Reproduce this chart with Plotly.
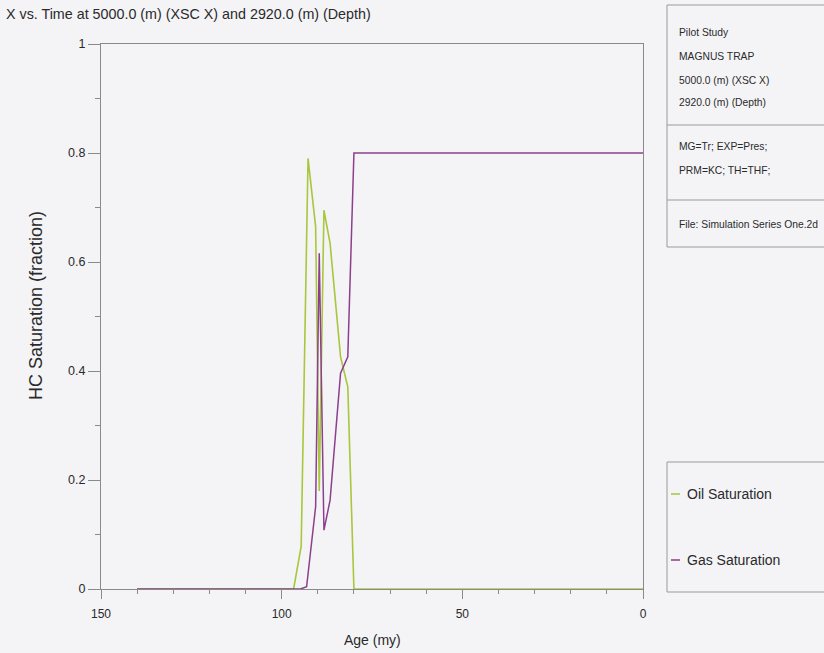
import plotly.graph_objects as go

# Hydrocarbon saturation history at a single cell (age in million years)
oil_age = [140, 96.7, 94.6, 92.7, 90.6, 89.6, 88.3, 86.6, 83.7, 81.7, 80.0, 0]
oil_sat = [0, 0, 0.078, 0.790, 0.665, 0.180, 0.695, 0.634, 0.426, 0.371, 0, 0]

gas_age = [140, 94.8, 93.1, 90.6, 89.6, 88.3, 86.6, 83.7, 81.7, 80.0, 0]
gas_sat = [0, 0, 0.004, 0.151, 0.616, 0.108, 0.163, 0.396, 0.426, 0.800, 0.800]

x_ticks = [150, 100, 50, 0]
y_ticks = [0, 0.2, 0.4, 0.6, 0.8, 1]
y_labels = ["0", "0.2", "0.4", "0.6", "0.8", "1"]

title_text = "X vs. Time at 5000.0 (m) (XSC X) and 2920.0 (m) (Depth)"
info_lines = ["Pilot Study", "MAGNUS TRAP", "5000.0 (m) (XSC X)", "2920.0 (m) (Depth)",
              "MG=Tr; EXP=Pres;", "PRM=KC; TH=THF;", "File: Simulation Series One.2d"]
series_names = ["Oil Saturation", "Gas Saturation"]

OIL = "#a9c63c"
GAS = "#8b3f8c"
AXIS = "#8a8a8a"
BG = "#f4f4f7"
TXT = "#2a2a2a"
FONT = "Liberation Sans, Arial, sans-serif"

W, H = 824, 653
ML, MR, MT, MB = 101, 181, 44, 64
PW, PH = W - ML - MR, H - MT - MB


def px(x):
    """Page pixel column -> paper x."""
    return (x - ML) / PW


def py(y):
    """Page pixel row -> paper y."""
    return (H - MB - y) / PH


fig = go.Figure()
fig.add_trace(go.Scatter(x=oil_age, y=oil_sat, mode="lines", name=series_names[0],
                         line=dict(color=OIL, width=1.6), showlegend=False))
fig.add_trace(go.Scatter(x=gas_age, y=gas_sat, mode="lines", name=series_names[1],
                         line=dict(color=GAS, width=1.5), showlegend=False))

shapes = []
annotations = []

# Info panel at the upper right
panel_line = dict(color="#9a9a9a", width=1)
shapes.append(dict(type="rect", xref="paper", yref="paper",
                   x0=px(667), x1=px(840), y0=py(247), y1=py(5), line=panel_line))
for sep in (125, 200):
    shapes.append(dict(type="line", xref="paper", yref="paper",
                       x0=px(667), x1=px(840), y0=py(sep), y1=py(sep), line=panel_line))
for text, yc in zip(info_lines, [32, 56, 80, 103, 146, 170, 225]):
    annotations.append(dict(text=text, xref="paper", yref="paper", x=px(677), y=py(yc),
                            xanchor="left", yanchor="middle", showarrow=False,
                            font=dict(family=FONT, size=10.3, color=TXT)))

# Legend box
shapes.append(dict(type="rect", xref="paper", yref="paper",
                   x0=px(667), x1=px(840), y0=py(592), y1=py(462), line=panel_line))
for name, color, yc in zip(series_names, [OIL, GAS], [494, 560]):
    shapes.append(dict(type="line", xref="paper", yref="paper",
                       x0=px(671), x1=px(680), y0=py(yc), y1=py(yc),
                       line=dict(color=color, width=1.5)))
    annotations.append(dict(text=name, xref="paper", yref="paper", x=px(685), y=py(yc),
                            xanchor="left", yanchor="middle", showarrow=False,
                            font=dict(family=FONT, size=14, color=TXT)))

# Titles
annotations.append(dict(text=title_text, xref="paper", yref="paper", x=px(4), y=py(14),
                        xanchor="left", yanchor="middle", showarrow=False,
                        font=dict(family=FONT, size=14.3, color=TXT)))
annotations.append(dict(text="Age (my)", xref="paper", yref="paper", x=px(372), y=py(640),
                        xanchor="center", yanchor="middle", showarrow=False,
                        font=dict(family=FONT, size=14, color=TXT)))
annotations.append(dict(text="HC Saturation (fraction)", xref="paper", yref="paper",
                        x=px(36), y=py(306), textangle=-90,
                        xanchor="center", yanchor="middle", showarrow=False,
                        font=dict(family=FONT, size=18, color=TXT)))

fig.update_layout(
    width=W, height=H,
    margin=dict(l=ML, r=MR, t=MT, b=MB, pad=0, autoexpand=False),
    paper_bgcolor=BG, plot_bgcolor=BG,
    shapes=shapes, annotations=annotations,
    xaxis=dict(range=[150, 0], autorange=False, automargin=False,
               tickvals=x_ticks, ticktext=[str(v) for v in x_ticks],
               ticks="outside", ticklen=9, tickcolor=AXIS, tickwidth=1,
               ticklabelstandoff=5,
               minor=dict(dtick=10, ticks="outside", ticklen=4, tickcolor=AXIS),
               showline=True, linecolor=AXIS, linewidth=1, mirror=True,
               showgrid=False, zeroline=False,
               tickfont=dict(family=FONT, size=12, color=TXT)),
    yaxis=dict(range=[0, 1], autorange=False, automargin=False,
               tickvals=y_ticks, ticktext=y_labels,
               ticks="outside", ticklen=12, tickcolor=AXIS, tickwidth=1,
               minor=dict(dtick=0.1, ticks="outside", ticklen=5, tickcolor=AXIS),
               showline=True, linecolor=AXIS, linewidth=1, mirror=True,
               showgrid=False, zeroline=False,
               tickfont=dict(family=FONT, size=12.5, color=TXT)),
)

fig.write_html("out.html")
